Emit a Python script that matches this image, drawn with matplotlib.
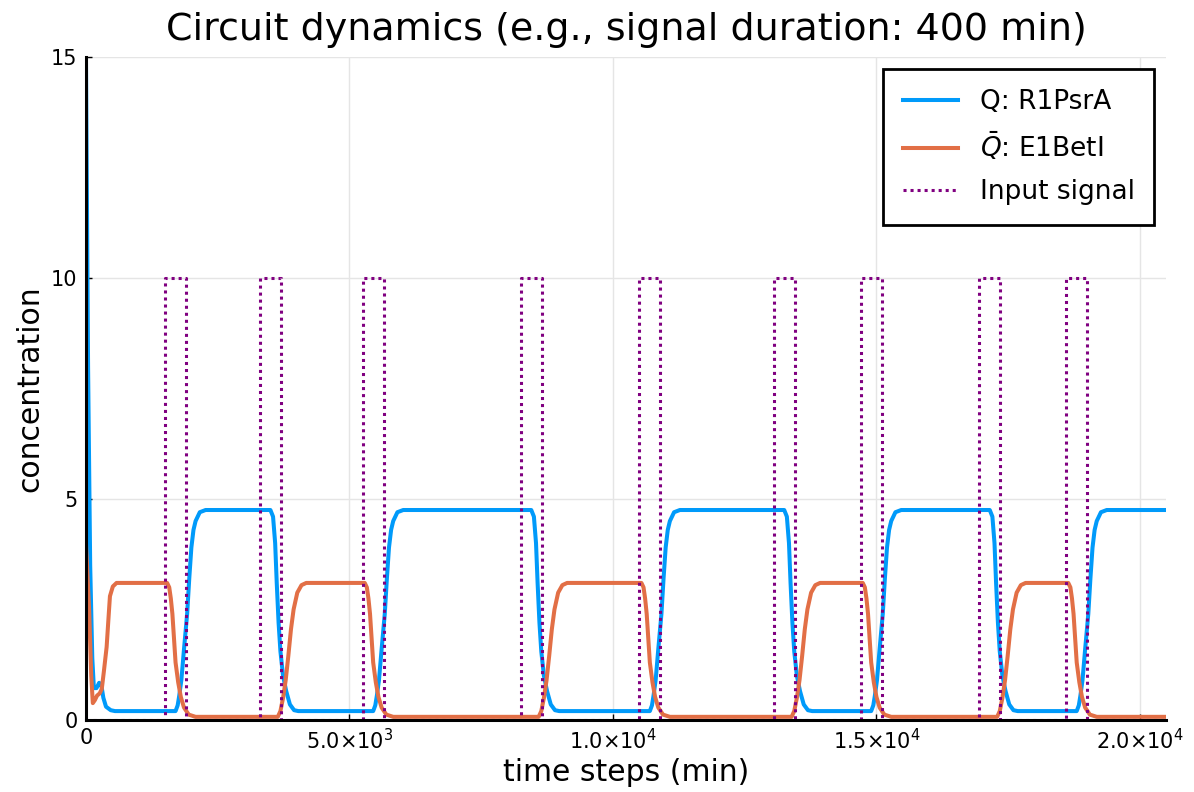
import matplotlib.pyplot as plt
import numpy as np
from matplotlib.ticker import FixedLocator

# pulse start times (min) and pulse length of the input signal
pulse_starts = [1500, 3300, 5250, 8250, 10500, 13050, 14700, 16950, 18600]
pulse_len = 400
pulse_high = 10.0
t_end = 20500

# Q: R1PsrA
q_t = [0, 40, 80, 120, 150, 200, 250, 290, 330, 380, 470, 550,
       1700, 1740, 1770, 1810, 1860, 1920, 1960, 2000, 2040, 2080, 2160, 2270,
       3500, 3550, 3590, 3620, 3655, 3690, 3740, 3800, 3870, 3950, 4030,
       5450, 5490, 5520, 5560, 5610, 5670, 5710, 5750, 5790, 5830, 5910, 6020,
       8450, 8500, 8540, 8570, 8605, 8640, 8690, 8750, 8820, 8900, 8980,
       10700, 10740, 10770, 10810, 10860, 10920, 10960, 11000, 11040, 11080, 11160, 11270,
       13250, 13300, 13340, 13370, 13405, 13440, 13490, 13550, 13620, 13700, 13780,
       14900, 14940, 14970, 15010, 15060, 15120, 15160, 15200, 15240, 15280, 15360, 15470,
       17150, 17200, 17240, 17270, 17305, 17340, 17390, 17450, 17520, 17600, 17680,
       18800, 18840, 18870, 18910, 18960, 19020, 19060, 19100, 19140, 19180, 19260, 19370,
       20500]
q_val = [15.0, 8.0, 3.5, 1.4, 0.72, 0.72, 0.84, 0.8, 0.5, 0.3, 0.22, 0.2,
         0.2, 0.33, 0.55, 0.9, 1.6, 2.4, 3.2, 3.9, 4.3, 4.5, 4.7, 4.75,
         4.75, 4.6, 4.0, 3.1, 2.2, 1.55, 1.0, 0.65, 0.35, 0.22, 0.2,
         0.2, 0.33, 0.55, 0.9, 1.6, 2.4, 3.2, 3.9, 4.3, 4.5, 4.7, 4.75,
         4.75, 4.6, 4.0, 3.1, 2.2, 1.55, 1.0, 0.65, 0.35, 0.22, 0.2,
         0.2, 0.33, 0.55, 0.9, 1.6, 2.4, 3.2, 3.9, 4.3, 4.5, 4.7, 4.75,
         4.75, 4.6, 4.0, 3.1, 2.2, 1.55, 1.0, 0.65, 0.35, 0.22, 0.2,
         0.2, 0.33, 0.55, 0.9, 1.6, 2.4, 3.2, 3.9, 4.3, 4.5, 4.7, 4.75,
         4.75, 4.6, 4.0, 3.1, 2.2, 1.55, 1.0, 0.65, 0.35, 0.22, 0.2,
         0.2, 0.33, 0.55, 0.9, 1.6, 2.4, 3.2, 3.9, 4.3, 4.5, 4.7, 4.75,
         4.75]

# Q bar: E1BetI
qb_t = [0, 60, 100, 130, 170, 210, 260, 300, 340, 392, 430, 455, 510, 580,
        1540, 1580, 1610, 1640, 1670, 1700, 1750, 1800, 1860, 1950, 2080,
        3640, 3690, 3740, 3790, 3840, 3890, 3940, 4010, 4090, 4180,
        5290, 5330, 5360, 5390, 5420, 5450, 5500, 5550, 5610, 5700, 5830,
        8590, 8640, 8690, 8740, 8790, 8840, 8890, 8960, 9040, 9130,
        10540, 10580, 10610, 10640, 10670, 10700, 10750, 10800, 10860, 10950, 11080,
        13390, 13440, 13490, 13540, 13590, 13640, 13690, 13760, 13840, 13930,
        14740, 14780, 14810, 14840, 14870, 14900, 14950, 15000, 15060, 15150, 15280,
        17290, 17340, 17390, 17440, 17490, 17540, 17590, 17660, 17740, 17830,
        18640, 18680, 18710, 18740, 18770, 18800, 18850, 18900, 18960, 19050, 19180,
        20500]
qb_val = [4.0, 2.5, 1.0, 0.38, 0.45, 0.55, 0.6, 0.7, 1.1, 1.65, 2.35, 2.8, 3.02, 3.1,
          3.1, 3.0, 2.75, 2.4, 1.85, 1.3, 0.85, 0.52, 0.28, 0.12, 0.07,
          0.07, 0.2, 0.5, 0.9, 1.45, 2.05, 2.5, 2.88, 3.05, 3.1,
          3.1, 3.0, 2.75, 2.4, 1.85, 1.3, 0.85, 0.52, 0.28, 0.12, 0.07,
          0.07, 0.2, 0.5, 0.9, 1.45, 2.05, 2.5, 2.88, 3.05, 3.1,
          3.1, 3.0, 2.75, 2.4, 1.85, 1.3, 0.85, 0.52, 0.28, 0.12, 0.07,
          0.07, 0.2, 0.5, 0.9, 1.45, 2.05, 2.5, 2.88, 3.05, 3.1,
          3.1, 3.0, 2.75, 2.4, 1.85, 1.3, 0.85, 0.52, 0.28, 0.12, 0.07,
          0.07, 0.2, 0.5, 0.9, 1.45, 2.05, 2.5, 2.88, 3.05, 3.1,
          3.1, 3.0, 2.75, 2.4, 1.85, 1.3, 0.85, 0.52, 0.28, 0.12, 0.07,
          0.07]

x_ticks = [0, 5000, 10000, 15000, 20000]
x_tick_labels = ["0", r"$5.0{\times}10^{3}$", r"$1.0{\times}10^{4}$",
                 r"$1.5{\times}10^{4}$", r"$2.0{\times}10^{4}$"]
y_ticks = [0, 5, 10, 15]

# step signal vertices from the pulse list
sig_t, sig_v = [0], [0.0]
for s in pulse_starts:
    sig_t += [s, s, s + pulse_len, s + pulse_len]
    sig_v += [0.0, pulse_high, pulse_high, 0.0]
sig_t.append(t_end)
sig_v.append(0.0)

plt.rcParams["font.family"] = ["DejaVu Sans"]
plt.rcParams["mathtext.fontset"] = "dejavusans"

fig = plt.figure(figsize=(11.94, 7.92), dpi=100)
ax = fig.add_axes([0.072, 0.091, 0.9048, 0.837])

ax.plot(q_t, q_val, color="#009AFA", linewidth=2.9, label="Q: R1PsrA", zorder=3)
ax.plot(qb_t, qb_val, color="#E26F46", linewidth=2.9, label=r"$\bar{Q}$: E1BetI", zorder=3)
ax.plot(sig_t, sig_v, color="#800080", linewidth=2.2, linestyle=(0, (1, 1.3)),
        label="Input signal", zorder=4)

ax.set_xlim(0, t_end)
ax.set_ylim(0, 15)
ax.xaxis.set_major_locator(FixedLocator(x_ticks))
ax.set_xticklabels(x_tick_labels)
ax.yaxis.set_major_locator(FixedLocator(y_ticks))
ax.tick_params(direction="in", length=4, width=1, labelsize=15, pad=6)

ax.grid(color="#e5e5e5", linewidth=1)
ax.set_axisbelow(True)
for side in ["top", "right"]:
    ax.spines[side].set_visible(False)
for side in ["left", "bottom"]:
    ax.spines[side].set_linewidth(2.2)
    ax.spines[side].set_zorder(5)

ax.set_title("Circuit dynamics (e.g., signal duration: 400 min)", fontsize=27.4, pad=12)
ax.set_xlabel("time steps (min)", fontsize=21.5, labelpad=3)
ax.set_ylabel("concentration", fontsize=21.5, labelpad=5)

leg = ax.legend(loc="upper right", fontsize=19, frameon=True, fancybox=False,
                borderpad=0.75, handlelength=2.1, handletextpad=0.8,
                labelspacing=0.6, borderaxespad=0,
                bbox_to_anchor=(0.9889, 0.9819))
leg.get_frame().set_edgecolor("black")
leg.get_frame().set_linewidth(2)
leg.get_frame().set_alpha(1)

fig.savefig("out.png", dpi=100)
